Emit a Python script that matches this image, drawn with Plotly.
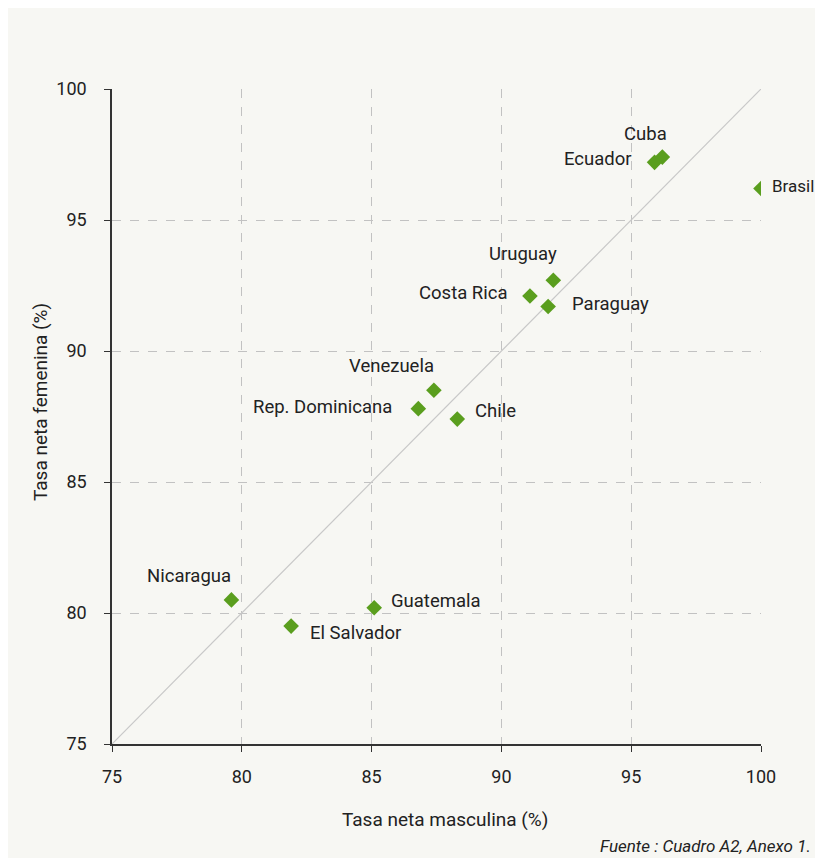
import plotly.graph_objects as go

# Tasa neta por sexo (%)
paises = ["Cuba", "Ecuador", "Brasil", "Uruguay", "Costa Rica", "Paraguay",
          "Venezuela", "Rep. Dominicana", "Chile", "Nicaragua", "El Salvador",
          "Guatemala"]
masculina = [96.2, 95.9, 100.0, 92.0, 91.1, 91.8, 87.4, 86.8, 88.3, 79.6, 81.9, 85.1]
femenina = [97.4, 97.2, 96.2, 92.7, 92.1, 91.7, 88.5, 87.8, 87.4, 80.5, 79.5, 80.2]
diagonal = [75, 100]
ticks = [75, 80, 85, 90, 95, 100]

# label placement: (xanchor, xshift, yshift, size)
label_pos = {
    "Cuba": ("center", -17, 23, 18.5),
    "Ecuador": ("right", -21, 3, 18.5),
    "Brasil": ("left", 9, 3, 17),
    "Uruguay": ("center", -30, 26, 18.5),
    "Costa Rica": ("right", -20, 3, 18.5),
    "Paraguay": ("left", 22, 2, 18.5),
    "Venezuela": ("center", -42, 24, 18.5),
    "Rep. Dominicana": ("right", -24, 2, 18.5),
    "Chile": ("left", 16, 8, 18.5),
    "Nicaragua": ("center", -42, 24, 18.5),
    "El Salvador": ("left", 17, -7, 18.5),
    "Guatemala": ("left", 15, 7, 18.5),
}

FONT = "Roboto"
BG = "#f7f7f3"
INK = "#222222"

fig = go.Figure()
fig.add_trace(go.Scatter(x=diagonal, y=diagonal, mode="lines",
                         line=dict(color="#c8c8c8", width=1.2),
                         hoverinfo="skip", showlegend=False))
fig.add_trace(go.Scatter(x=masculina, y=femenina, mode="markers",
                         marker=dict(symbol="diamond", size=12, color="#5a9e1e"),
                         text=paises, showlegend=False))

annotations = []
for p, xv, yv in zip(paises, masculina, femenina):
    anc, dx, dy, sz = label_pos[p]
    annotations.append(dict(x=xv, y=yv, text=p, showarrow=False,
                            xanchor=anc, yanchor="middle", xshift=dx, yshift=dy,
                            font=dict(family=FONT, size=sz, color=INK)))

annotations += [
    dict(text="Tasa neta masculina (%)", xref="paper", yref="paper",
         x=0.513, y=-0.116, xanchor="center", yanchor="middle", showarrow=False,
         font=dict(family=FONT, size=19, color=INK)),
    dict(text="Tasa neta femenina (%)", xref="paper", yref="paper",
         x=-0.111, y=0.522, xanchor="center", yanchor="middle", showarrow=False,
         textangle=-90, font=dict(family=FONT, size=19, color=INK)),
    dict(text="<i>Fuente : Cuadro A2, Anexo 1.</i>", xref="paper", yref="paper",
         x=1.08, y=-0.156, xanchor="right", yanchor="middle", showarrow=False,
         font=dict(family=FONT, size=17, color=INK)),
]

fig.update_layout(
    width=807, height=850,
    margin=dict(l=104, r=54, t=81, b=114, pad=0),
    paper_bgcolor=BG,
    plot_bgcolor=BG,
    font=dict(family=FONT, size=18, color=INK),
    annotations=annotations,
)

fig.update_xaxes(range=[75, 100], tickvals=ticks, showline=True, linecolor="#333",
                 linewidth=1.5, ticks="outside", ticklen=6, tickcolor="#333",
                 showgrid=True, gridcolor="#c2c2c2", griddash="dash", gridwidth=1,
                 zeroline=False, ticklabelstandoff=10)
fig.update_yaxes(range=[75, 100], tickvals=ticks, showline=True, linecolor="#333",
                 linewidth=1.5, ticks="outside", ticklen=6, tickcolor="#333",
                 showgrid=True, gridcolor="#c2c2c2", griddash="dash", gridwidth=1,
                 zeroline=False, ticklabelstandoff=14)

fig.write_html("out.html")
